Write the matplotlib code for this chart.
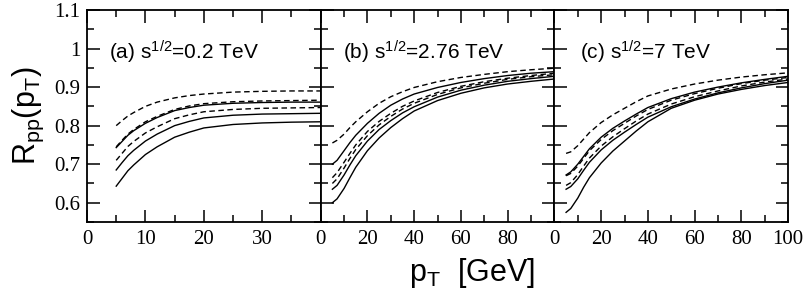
import matplotlib
matplotlib.use("Agg")
import matplotlib.pyplot as plt
from matplotlib.ticker import MultipleLocator

plt.rcParams['font.family'] = ['Liberation Sans', 'DejaVu Sans']
plt.rcParams['mathtext.fontset'] = 'custom'
plt.rcParams['mathtext.rm'] = 'Liberation Sans'
plt.rcParams['mathtext.it'] = 'Liberation Sans'

# pT grids (GeV)
pt_a = [5, 6, 7, 8, 10, 12, 15, 17.5, 20, 25, 30, 35, 40]
pt_bc = [5, 7, 10, 12.5, 15, 20, 25, 30, 35, 40, 50, 60, 70, 80, 90, 100]

# panel (a) sqrt(s) = 0.2 TeV
a_d1 = [0.800, 0.813, 0.825, 0.834, 0.850, 0.861, 0.872, 0.878, 0.882, 0.887, 0.889, 0.890, 0.890]
a_d2 = [0.745, 0.762, 0.778, 0.790, 0.810, 0.824, 0.842, 0.851, 0.857, 0.862, 0.864, 0.865, 0.866]
a_s1 = [0.743, 0.759, 0.775, 0.787, 0.806, 0.821, 0.839, 0.847, 0.853, 0.858, 0.860, 0.861, 0.861]
a_d3 = [0.710, 0.728, 0.746, 0.759, 0.781, 0.797, 0.818, 0.828, 0.836, 0.842, 0.845, 0.846, 0.847]
a_s2 = [0.685, 0.704, 0.722, 0.736, 0.760, 0.778, 0.800, 0.811, 0.820, 0.827, 0.830, 0.831, 0.832]
a_s3 = [0.643, 0.663, 0.683, 0.698, 0.725, 0.745, 0.770, 0.783, 0.794, 0.803, 0.807, 0.809, 0.810]

# panel (b) sqrt(s) = 2.76 TeV
b_d1 = [0.755, 0.762, 0.778, 0.795, 0.810, 0.836, 0.858, 0.875, 0.888, 0.899, 0.914, 0.925, 0.933, 0.940, 0.945, 0.949]
b_s1 = [0.700, 0.710, 0.735, 0.756, 0.775, 0.806, 0.832, 0.853, 0.869, 0.882, 0.899, 0.912, 0.922, 0.930, 0.936, 0.940]
b_d2 = [0.665, 0.678, 0.705, 0.728, 0.750, 0.785, 0.811, 0.832, 0.850, 0.864, 0.886, 0.902, 0.914, 0.923, 0.930, 0.936]
b_d3 = [0.650, 0.662, 0.690, 0.715, 0.738, 0.774, 0.802, 0.824, 0.843, 0.858, 0.881, 0.898, 0.910, 0.920, 0.927, 0.932]
b_s2 = [0.635, 0.645, 0.672, 0.698, 0.722, 0.760, 0.790, 0.813, 0.833, 0.849, 0.874, 0.892, 0.905, 0.915, 0.922, 0.928]
b_s3 = [0.600, 0.610, 0.637, 0.665, 0.692, 0.735, 0.768, 0.795, 0.818, 0.838, 0.865, 0.884, 0.898, 0.908, 0.915, 0.921]

# panel (c) sqrt(s) = 7 TeV
c_d1 = [0.728, 0.732, 0.748, 0.765, 0.782, 0.808, 0.828, 0.845, 0.862, 0.877, 0.895, 0.908, 0.918, 0.926, 0.932, 0.937]
c_s1 = [0.672, 0.680, 0.700, 0.720, 0.740, 0.770, 0.793, 0.812, 0.830, 0.847, 0.870, 0.887, 0.900, 0.911, 0.920, 0.928]
c_d2 = [0.670, 0.676, 0.695, 0.715, 0.735, 0.764, 0.787, 0.806, 0.825, 0.842, 0.866, 0.883, 0.897, 0.909, 0.918, 0.925]
c_d3 = [0.645, 0.652, 0.673, 0.695, 0.716, 0.747, 0.771, 0.792, 0.812, 0.830, 0.856, 0.875, 0.890, 0.903, 0.913, 0.921]
c_s2 = [0.635, 0.642, 0.662, 0.684, 0.705, 0.737, 0.762, 0.783, 0.803, 0.822, 0.849, 0.869, 0.885, 0.898, 0.909, 0.918]
c_s3 = [0.575, 0.585, 0.612, 0.640, 0.665, 0.703, 0.734, 0.760, 0.786, 0.810, 0.845, 0.866, 0.882, 0.894, 0.904, 0.912]

labels = ['(a) s$^{1/2}$=0.2 TeV', '(b) s$^{1/2}$=2.76 TeV', '(c) s$^{1/2}$=7 TeV']
yticks = [0.6, 0.7, 0.8, 0.9, 1.0, 1.1]
yticklabels = ['0.6', '0.7', '0.8', '0.9', '1', '1.1']

panels = [
    (pt_a, [a_d1, a_d2, a_d3], [a_s1, a_s2, a_s3], 40, [0, 10, 20, 30], 5),
    (pt_bc, [b_d1, b_d2, b_d3], [b_s1, b_s2, b_s3], 100, [0, 20, 40, 60, 80], 10),
    (pt_bc, [c_d1, c_d2, c_d3], [c_s1, c_s2, c_s3], 100, [0, 20, 40, 60, 80, 100], 10),
]

fig = plt.figure(figsize=(8.08, 3.0), dpi=100)
left, bottom, width, height = 87 / 808, 1 - 222 / 300, 233.7 / 808, 212 / 300

for i, (pt, dashed, solid, xmax, xt, xminor) in enumerate(panels):
    ax = fig.add_axes([left + i * width, bottom, width, height])
    for y in dashed:
        ax.plot(pt, y, color='black', lw=1.0, ls=(0, (4, 2.5)))
    for y in solid:
        ax.plot(pt, y, color='black', lw=1.0)
    ax.set_xlim(0, xmax)
    ax.set_ylim(0.55, 1.1)
    ax.set_xticks(xt)
    ax.xaxis.set_minor_locator(MultipleLocator(xminor))
    ax.set_yticks(yticks)
    ax.yaxis.set_minor_locator(MultipleLocator(0.05))
    ax.tick_params(which='both', direction='in', top=True, right=True)
    ax.tick_params(which='major', length=9, width=1.1)
    ax.tick_params(which='minor', length=5, width=1.1)
    ax.tick_params(axis='x', labelsize=15, pad=6)
    ax.tick_params(axis='y', labelsize=15, pad=5)
    for lbl in ax.get_xticklabels() + ax.get_yticklabels():
        lbl.set_fontfamily('Liberation Serif')
    if i == 0:
        ax.set_yticklabels(yticklabels, fontfamily='Liberation Serif')
    else:
        ax.set_yticklabels([])
    for sp in ax.spines.values():
        sp.set_linewidth(1.3)
    ax.text(0.095 if i < 2 else 0.11, 0.765, labels[i], transform=ax.transAxes,
            fontsize=15, ha='left', va='baseline')

fig.text(0.035, bottom + height / 2, r'R$_{\mathrm{pp}}$(p$_{\mathrm{T}}$)', rotation=90,
         fontsize=22, ha='center', va='center')
fig.text(472 / 808, 0.09, r'p$_{\mathrm{T}}$  [GeV]', fontsize=22, ha='center', va='center')

fig.savefig('out.png', dpi=100)
